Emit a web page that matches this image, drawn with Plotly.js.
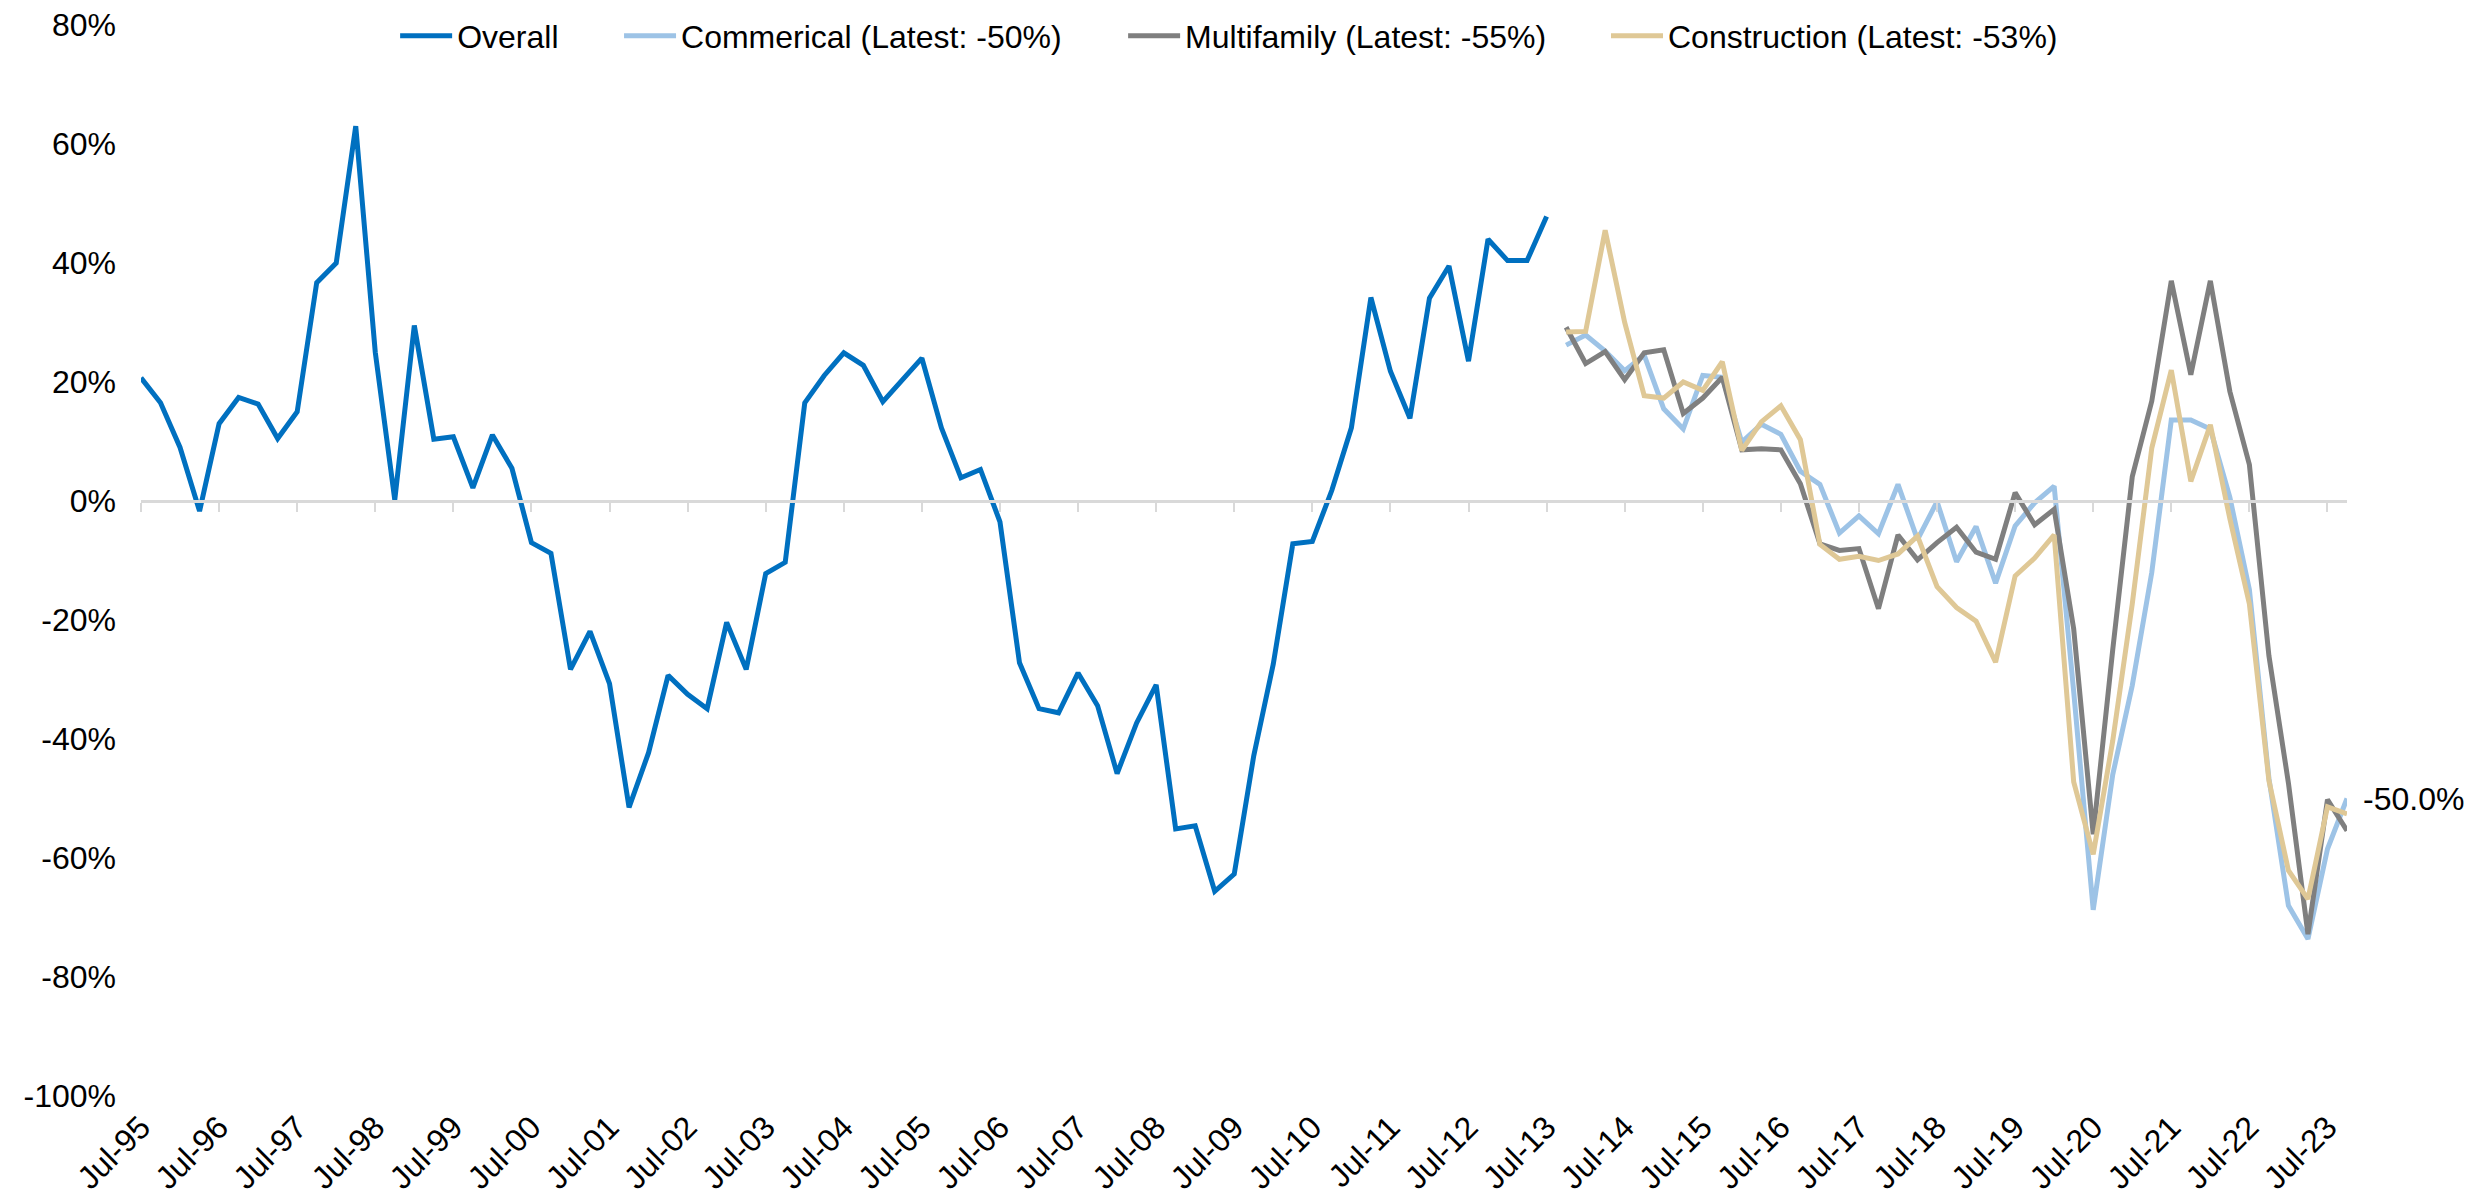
<!DOCTYPE html>
<html>
<head>
<meta charset="utf-8">
<script src="https://cdn.plot.ly/plotly-3.0.1.min.js"></script>
<style>
  html, body { margin: 0; padding: 0; background: #ffffff; }
  #chart { width: 2488px; height: 1199px; }
</style>
</head>
<body>
<div id="chart"></div>
<script>
// Quarterly categories, Jul-95 .. Oct-23
const quarters = [
  'Jul-95','Oct-95','Jan-96','Apr-96','Jul-96','Oct-96','Jan-97','Apr-97',
  'Jul-97','Oct-97','Jan-98','Apr-98','Jul-98','Oct-98','Jan-99','Apr-99',
  'Jul-99','Oct-99','Jan-00','Apr-00','Jul-00','Oct-00','Jan-01','Apr-01',
  'Jul-01','Oct-01','Jan-02','Apr-02','Jul-02','Oct-02','Jan-03','Apr-03',
  'Jul-03','Oct-03','Jan-04','Apr-04','Jul-04','Oct-04','Jan-05','Apr-05',
  'Jul-05','Oct-05','Jan-06','Apr-06','Jul-06','Oct-06','Jan-07','Apr-07',
  'Jul-07','Oct-07','Jan-08','Apr-08','Jul-08','Oct-08','Jan-09','Apr-09',
  'Jul-09','Oct-09','Jan-10','Apr-10','Jul-10','Oct-10','Jan-11','Apr-11',
  'Jul-11','Oct-11','Jan-12','Apr-12','Jul-12','Oct-12','Jan-13','Apr-13',
  'Jul-13','Oct-13','Jan-14','Apr-14','Jul-14','Oct-14','Jan-15','Apr-15',
  'Jul-15','Oct-15','Jan-16','Apr-16','Jul-16','Oct-16','Jan-17','Apr-17',
  'Jul-17','Oct-17','Jan-18','Apr-18','Jul-18','Oct-18','Jan-19','Apr-19',
  'Jul-19','Oct-19','Jan-20','Apr-20','Jul-20','Oct-20','Jan-21','Apr-21',
  'Jul-21','Oct-21','Jan-22','Apr-22','Jul-22','Oct-22','Jan-23','Apr-23',
  'Jul-23','Oct-23'
];

// Tick labels shown on the x axis (every July)
const tickLabels = [
  'Jul-95','Jul-96','Jul-97','Jul-98','Jul-99','Jul-00','Jul-01','Jul-02',
  'Jul-03','Jul-04','Jul-05','Jul-06','Jul-07','Jul-08','Jul-09','Jul-10',
  'Jul-11','Jul-12','Jul-13','Jul-14','Jul-15','Jul-16','Jul-17','Jul-18',
  'Jul-19','Jul-20','Jul-21','Jul-22','Jul-23'
];

// Y axis ticks
const yTickVals = [80, 60, 40, 20, 0, -20, -40, -60, -80, -100];
const yTickText = ['80%', '60%', '40%', '20%', '0%', '-20%', '-40%', '-60%', '-80%', '-100%'];

// Overall: Jul-95 .. Jul-13 (percent)
const overall = [
  20.7, 16.5, 9.0, -1.7, 13.0, 17.4, 16.3, 10.5,
  15.0, 36.7, 40.0, 63.0, 25.0, 0.2, 29.5, 10.4,
  10.8, 2.2, 11.1, 5.5, -7.0, -8.8, -28.3, -21.9,
  -30.7, -51.5, -42.3, -29.3, -32.5, -34.9, -20.4, -28.3,
  -12.2, -10.3, 16.5, 21.1, 24.9, 22.8, 16.7, 20.5,
  24.0, 12.3, 3.9, 5.3, -3.5, -27.2, -34.9, -35.6,
  -28.9, -34.4, -45.8, -37.3, -30.9, -55.1, -54.6, -65.6,
  -62.7, -42.8, -27.4, -7.2, -6.8, 1.8, 12.3, 34.2,
  21.8, 13.9, 34.1, 39.5, 23.5, 44.0, 40.4, 40.4,
  47.8
];

// Oct-13 .. Oct-23 (percent)
const commercial = [
  26.2, 27.9, 25.2, 21.9, 24.5, 15.5, 12.1, 21.1, 20.8, 9.9,
  12.9, 11.2, 5.0, 2.8, -5.4, -2.5, -5.5, 2.8, -6.5, -0.1,
  -10.2, -4.3, -13.8, -4.2, -0.3, 2.5, -32.0, -68.7, -46.0, -31.0,
  -12.0, 13.6, 13.6, 12.1, 0.6, -14.9, -46.6, -68.0, -73.6, -58.5,
  -50.0
];
const multifamily = [
  29.2, 23.1, 25.1, 20.4, 24.9, 25.4, 14.7, 17.3, 20.8, 8.6,
  8.8, 8.6, 2.9, -7.2, -8.3, -8.0, -18.1, -5.7, -9.9, -7.0,
  -4.4, -8.6, -9.8, 1.4, -4.0, -1.4, -21.5, -56.0, -25.0, 4.1,
  16.8, 37.0, 21.2, 37.0, 18.4, 6.1, -26.0, -47.4, -72.8, -50.2,
  -55.4
];
const construction = [
  28.4, 28.5, 45.5, 30.0, 17.7, 17.3, 20.0, 18.6, 23.4, 8.5,
  13.3, 16.0, 10.3, -7.3, -9.8, -9.3, -10.0, -8.9, -5.9, -14.4,
  -17.9, -20.2, -27.1, -12.6, -9.6, -5.7, -47.2, -59.4, -40.3, -17.3,
  8.9, 22.0, 3.3, 12.8, -3.0, -17.3, -47.0, -62.1, -66.9, -51.4,
  -52.6
];

const seriesNames = [
  'Overall',
  'Commerical (Latest: -50%)',
  'Multifamily (Latest: -55%)',
  'Construction (Latest: -53%)'
];

const FONT = 'Arial, "Liberation Sans", sans-serif';
const yMin = -100, yMax = 80;

const xOverall = quarters.slice(0, overall.length);
const xLater = quarters.slice(quarters.length - commercial.length);

const LW = 5;
const traces = [
  { x: xOverall, y: overall, name: seriesNames[0], type: 'scatter', mode: 'lines',
    line: { color: '#0070C0', width: LW }, xaxis: 'x2', legend: 'legend' },
  { x: xLater, y: commercial, name: seriesNames[1], type: 'scatter', mode: 'lines',
    line: { color: '#9DC3E6', width: LW }, legend: 'legend2' },
  { x: xLater, y: multifamily, name: seriesNames[2], type: 'scatter', mode: 'lines',
    line: { color: '#7F7F7F', width: LW }, legend: 'legend3' },
  { x: xLater, y: construction, name: seriesNames[3], type: 'scatter', mode: 'lines',
    line: { color: '#DFC896', width: LW }, legend: 'legend4' }
];

function legendAt(xp) {
  return {
    orientation: 'h', x: xp, xanchor: 'left', xref: 'paper',
    y: 1 - 36 / 1199, yanchor: 'middle', yref: 'container',
    bgcolor: 'rgba(0,0,0,0)', borderwidth: 0,
    font: { family: FONT, size: 32, color: '#000000' },
    itemwidth: 52
  };
}

const lastIdx = commercial.length - 1;

const layout = {
  width: 2488, height: 1199,
  margin: { l: 141, r: 141, t: 25, b: 103, autoexpand: false },
  paper_bgcolor: '#ffffff', plot_bgcolor: '#ffffff',
  font: { family: FONT, size: 32, color: '#000000' },
  showlegend: true,
  legend: legendAt(0.1152),
  legend2: legendAt(0.2167),
  legend3: legendAt(0.4452),
  legend4: legendAt(0.6641),
  xaxis: {
    type: 'category', categoryorder: 'array', categoryarray: quarters,
    range: [0, quarters.length - 1],
    tickmode: 'array', tickvals: tickLabels, ticktext: tickLabels,
    tickangle: -45, ticks: '', showline: false, showgrid: false, zeroline: false,
    tickfont: { family: FONT, size: 32, color: '#000000' },
    ticklabelstandoff: 5
  },
  xaxis2: {
    type: 'category', categoryorder: 'array', categoryarray: quarters,
    overlaying: 'x', anchor: 'free', position: (0 - yMin) / (yMax - yMin),
    range: [0, quarters.length - 1],
    tickmode: 'array', tickvals: tickLabels, showticklabels: false,
    ticks: 'outside', ticklen: 9, tickwidth: 2, tickcolor: '#D9D9D9',
    showline: true, linecolor: '#D9D9D9', linewidth: 2.5,
    showgrid: false, zeroline: false
  },
  yaxis: {
    range: [yMin, yMax], tickmode: 'array', tickvals: yTickVals, ticktext: yTickText,
    showgrid: false, zeroline: false, showline: false, ticks: '',
    tickfont: { family: FONT, size: 32, color: '#000000' },
    ticklabelstandoff: 24
  },
  annotations: [{
    x: xLater[lastIdx], y: commercial[lastIdx], xref: 'x', yref: 'y',
    text: commercial[lastIdx].toFixed(1) + '%', showarrow: false,
    xanchor: 'left', yanchor: 'middle', xshift: 14,
    font: { family: FONT, size: 32, color: '#000000' }
  }]
};

Plotly.newPlot('chart', traces, layout, { displayModeBar: false, staticPlot: true });
</script>
</body>
</html>
